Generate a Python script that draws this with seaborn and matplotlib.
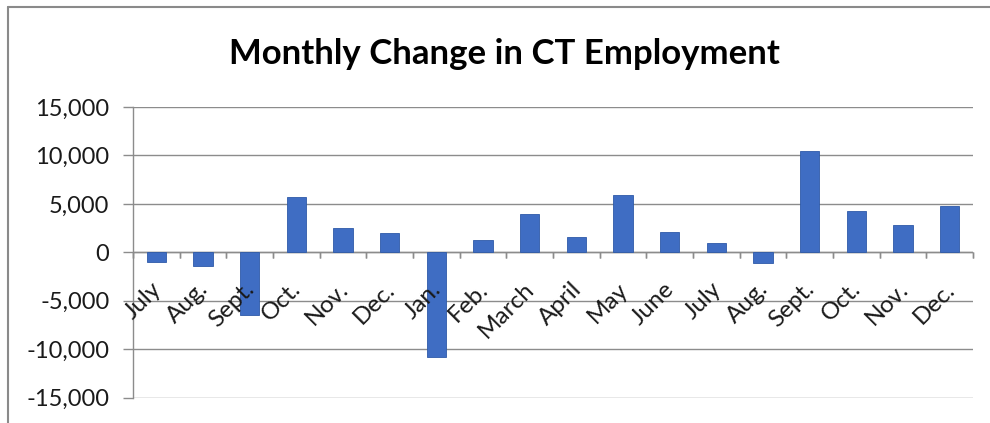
import matplotlib
matplotlib.use("Agg")
import matplotlib.pyplot as plt
import matplotlib.transforms as mtransforms
from matplotlib.lines import Line2D
from matplotlib.ticker import FuncFormatter
import numpy as np
import pandas as pd
import seaborn as sns

# Monthly change in Connecticut employment, July through the following December
months = ["July", "Aug.", "Sept.", "Oct.", "Nov.", "Dec.", "Jan.", "Feb.", "March",
          "April", "May", "June", "July", "Aug.", "Sept.", "Oct.", "Nov.", "Dec."]
changes = [-1000, -1400, -6500, 5700, 2500, 2000, -10800, 1300, 4000,
           1600, 5900, 2100, 1000, -1100, 10500, 4300, 2800, 4800]
y_ticks = [-15000, -10000, -5000, 0, 5000, 10000, 15000]

title = "Monthly Change in CT Employment"
bar_color = "#3F6DC3"
grid_color = "#8C8C8C"
font = "Lato"

sns.set_theme(style="white")
plt.rcParams["font.family"] = [font, "DejaVu Sans"]

df = pd.DataFrame({"period": np.arange(len(months)), "month": months, "change": changes})

fig = plt.figure(figsize=(9.9, 4.23), dpi=100)
fig.patch.set_facecolor("white")
ax = fig.add_axes([133 / 990, 1 - 397.7 / 423, 840 / 990, (397.7 - 107) / 423])

sns.barplot(data=df, x="period", y="change", color=bar_color, saturation=1,
            width=0.41, ax=ax, zorder=3)
for p in ax.patches:
    p.set_edgecolor("#2E5AA8")
    p.set_linewidth(0.6)

ax.set_xlim(-0.5, len(months) - 0.5)
ax.set_ylim(y_ticks[0], y_ticks[-1])
ax.set_yticks(y_ticks)
ax.yaxis.set_major_formatter(FuncFormatter(lambda v, _: f"{int(v):,}"))
ax.yaxis.grid(True, color=grid_color, linewidth=1.0, zorder=0)
ax.set_xlabel("")
ax.set_ylabel("")

for side in ["top", "right", "bottom"]:
    ax.spines[side].set_visible(False)
ax.spines["left"].set_color(grid_color)
ax.spines["left"].set_linewidth(1.0)

ax.tick_params(axis="y", which="major", left=True, length=7, width=1.0,
               color=grid_color, labelsize=17, labelcolor="#1a1a1a", pad=10)

# category axis drawn along zero, ticks between categories
ax.axhline(0, color=grid_color, linewidth=1.0, zorder=2)
for b in np.arange(-0.5, len(months), 1.0):
    ax.add_line(Line2D([b, b], [0, 0], color=grid_color, linewidth=1.0,
                       marker=3, markersize=4, markeredgecolor=grid_color,
                       zorder=2, clip_on=False))
ax.set_xticks(df["period"])
ax.set_xticklabels([])
ax.tick_params(axis="x", bottom=False)

label_offset = mtransforms.ScaledTranslation(-6 / 100, -26 / 100, fig.dpi_scale_trans)
for i, m in enumerate(months):
    ax.text(i, 0, m, rotation=45, ha="right", va="top", rotation_mode="anchor",
            fontsize=17.5, color="#1a1a1a",
            transform=ax.transData + label_offset, zorder=4)

fig.text(504 / 990, 1 - 54 / 423, title, ha="center", va="center",
         fontsize=25, fontweight="bold", color="black")

# chart frame edges
fig.add_artist(Line2D([8 / 990, 8 / 990], [0, 1 - 7 / 423], color="#8a8a8a",
                      linewidth=1.5, transform=fig.transFigure))
fig.add_artist(Line2D([8 / 990, 1], [1 - 7 / 423, 1 - 7 / 423], color="#8a8a8a",
                      linewidth=1.5, transform=fig.transFigure))

fig.savefig("out.png", dpi=100, facecolor="white")
